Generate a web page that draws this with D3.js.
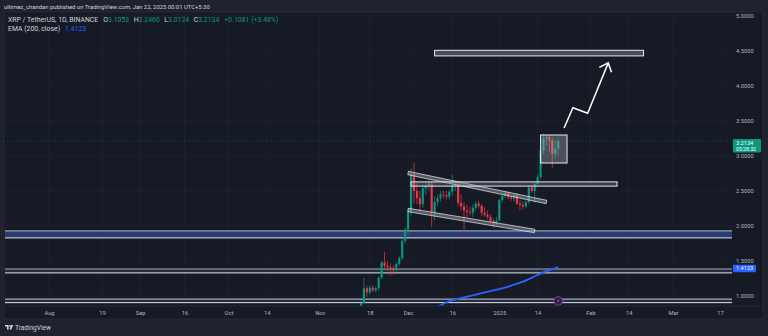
<!DOCTYPE html>
<html>
<head>
<meta charset="utf-8">
<script src="https://cdn.jsdelivr.net/npm/d3@7"></script>
<style>
html, body { margin: 0; padding: 0; background: #1e222d; }
svg { display: block; font-family: Roboto, "Liberation Sans", sans-serif; }
</style>
</head>
<body>
<div id="chart"></div>
<script>
// daily candles, XRP / TetherUS, starting 2024-11-13
const firstCandle = "2024-11-13";
const opens  = [0.70,0.71,0.76,0.90,1.11,1.05,1.12,1.08,1.11,1.26,1.48,1.43,1.41,1.40,1.37,1.46,1.54,1.79,
                1.95,2.21,2.74,2.50,2.40,2.31,2.54,2.57,2.61,2.20,2.34,2.40,2.45,2.44,2.42,2.49,2.58,2.60,2.33,2.28,2.22,2.20,2.19,2.26,2.32,2.29,2.19,2.16,2.13,2.07,2.04,
                2.08,2.37,2.43,2.47,2.41,2.39,2.44,2.32,2.30,2.28,2.34,2.55,2.50,2.60,2.70,3.08,3.25,3.27,3.22,3.03,3.1053];
const highs  = [0.76,0.80,0.93,1.26,1.15,1.15,1.15,1.14,1.28,1.50,1.63,1.50,1.47,1.44,1.48,1.57,1.82,1.98,
                2.26,2.82,2.91,2.62,2.50,2.58,2.63,2.66,2.64,2.42,2.45,2.50,2.51,2.50,2.52,2.73,2.64,2.63,2.45,2.34,2.30,2.27,2.31,2.35,2.36,2.31,2.27,2.22,2.17,2.11,2.13,
                2.39,2.46,2.50,2.49,2.44,2.47,2.47,2.37,2.35,2.37,2.58,2.58,2.63,2.74,3.12,3.32,3.31,3.30,3.26,3.23,3.2460];
const lows   = [0.66,0.70,0.75,0.88,0.99,1.02,1.05,1.05,1.08,1.24,1.37,1.36,1.29,1.31,1.35,1.43,1.51,1.75,
                1.88,2.14,2.32,2.31,2.21,2.26,2.45,2.50,1.98,2.08,2.28,2.35,2.39,2.38,2.38,2.44,2.50,2.28,2.22,1.93,2.12,2.15,2.13,2.22,2.25,2.14,2.13,2.10,2.05,1.98,2.02,
                2.07,2.34,2.40,2.38,2.36,2.35,2.30,2.22,2.23,2.25,2.31,2.47,2.33,2.57,2.66,3.03,3.15,3.05,2.83,2.96,3.0124];
const closes = [0.71,0.76,0.90,1.11,1.05,1.12,1.08,1.11,1.26,1.48,1.43,1.41,1.40,1.37,1.46,1.54,1.79,1.95,
                2.21,2.74,2.50,2.40,2.31,2.54,2.57,2.61,2.20,2.34,2.40,2.45,2.44,2.42,2.49,2.58,2.60,2.33,2.28,2.22,2.20,2.19,2.26,2.32,2.29,2.19,2.16,2.13,2.07,2.04,2.08,
                2.37,2.43,2.47,2.41,2.39,2.44,2.32,2.30,2.28,2.34,2.55,2.50,2.60,2.70,3.08,3.25,3.27,3.22,3.03,3.1053,3.2134];

// EMA (200, close)
const emaDates  = ["2024-12-05","2024-12-08","2024-12-11","2024-12-15","2024-12-20","2024-12-25","2024-12-30","2025-01-04","2025-01-09","2025-01-14","2025-01-17","2025-01-21"];
const emaValues = [0.74, 0.79, 0.845, 0.925, 0.98, 1.03, 1.08, 1.135, 1.205, 1.30, 1.355, 1.4123];

// axis ticks
const priceTicks = [1.0, 1.5, 2.0, 2.5, 3.0, 3.5, 4.0, 4.5, 5.0];
const timeTicks  = ["2024-08-01","2024-08-19","2024-09-01","2024-09-16","2024-10-01","2024-10-14","2024-11-01","2024-11-18",
                    "2024-12-01","2024-12-16","2025-01-01","2025-01-14","2025-02-01","2025-02-14","2025-03-01","2025-03-17"];
const timeLabels = ["Aug","19","Sep","16","Oct","14","Nov","18","Dec","16","2025","14","Feb","14","Mar","17"];

// horizontal support zones (extended both ways)
const zoneLow  = [1.83, 1.33, 0.905];
const zoneHigh = [1.93, 1.385, 0.955];

// drawn rectangles: resistance, consolidation box, target
const boxStart = ["2024-12-02", "2025-01-15", "2024-12-10"];
const boxEnd   = ["2025-02-10", "2025-01-24", "2025-02-19"];
const boxLow   = [2.57, 2.90, 4.43];
const boxHigh  = [2.63, 3.30, 4.51];

// falling channel
const channelDates  = [["2024-12-01", "2025-01-17"], ["2024-12-01", "2025-01-13"]];
const channelPrices = [[2.757, 2.343], [2.229, 1.929]];

// projection arrow
const arrowDates  = ["2025-01-23", "2025-01-26", "2025-01-31", "2025-02-07"];
const arrowPrices = [3.40, 3.69, 3.61, 4.33];

const lastPrice = 3.2134;
const lastEma = 1.4123;

const W = 768, H = 336;
const plot = {left: 4, right: 732, top: 12, bottom: 306};
const axisRight = 763, axisBottom = 319;
const up = "#089981", down = "#f23645";

const parse = d3.utcParse("%Y-%m-%d");
const start = parse(firstCandle);
const candles = closes.map(function(c, i) {
    return {date: d3.utcDay.offset(start, i), o: opens[i], h: highs[i], l: lows[i], c: c};
});

const svg = d3.select("#chart").append("svg")
    .attr("width", W)
    .attr("height", H);

svg.append("rect").attr("width", W).attr("height", H).attr("fill", "#1e222d");
svg.append("rect")
    .attr("x", plot.left).attr("y", plot.top)
    .attr("width", axisRight - plot.left).attr("height", axisBottom - plot.top)
    .attr("fill", "#161a25").attr("stroke", "#2a2e39").attr("stroke-width", 0.8);

const x = d3.scaleUtc()
    .domain([parse("2024-08-01"), parse("2025-03-01")])
    .range([49, 673]);

const y = d3.scaleLinear()
    .domain([1, 5])
    .range([296, 16]);

const dayW = x(parse("2024-12-02")) - x(parse("2024-12-01"));

// grid
svg.append("g").selectAll("line")
    .data(priceTicks)
    .join("line")
        .attr("x1", plot.left).attr("x2", plot.right)
        .attr("y1", d => y(d)).attr("y2", d => y(d))
        .attr("stroke", "#1f2431").attr("stroke-width", 0.8);

svg.append("g").selectAll("line")
    .data(timeTicks)
    .join("line")
        .attr("x1", d => x(parse(d))).attr("x2", d => x(parse(d)))
        .attr("y1", plot.top).attr("y2", plot.bottom)
        .attr("stroke", "#1f2431").attr("stroke-width", 0.8);

svg.append("clipPath").attr("id", "plotClip")
    .append("rect")
        .attr("x", plot.left).attr("y", plot.top)
        .attr("width", plot.right - plot.left).attr("height", plot.bottom - plot.top);

const g = svg.append("g").attr("clip-path", "url(#plotClip)");

// support zones
const zoneFill = ["#2b3c73", "#262c3f", "#262c3f"];
const zoneTop = ["#9a9eab", "#a6aab6", "#a6aab6"];
g.selectAll("rect.zone")
    .data(zoneLow)
    .join("rect")
        .attr("class", "zone")
        .attr("x", plot.left + 1)
        .attr("width", plot.right - plot.left - 1)
        .attr("y", (d, i) => y(zoneHigh[i]))
        .attr("height", (d, i) => y(d) - y(zoneHigh[i]))
        .attr("fill", (d, i) => zoneFill[i]);
g.selectAll("line.zoneTop")
    .data(zoneHigh)
    .join("line")
        .attr("class", "zoneTop")
        .attr("x1", plot.left + 1).attr("x2", plot.right)
        .attr("y1", d => y(d)).attr("y2", d => y(d))
        .attr("stroke", (d, i) => zoneTop[i]).attr("stroke-width", 1.1);
g.selectAll("line.zoneBottom")
    .data(zoneLow)
    .join("line")
        .attr("class", "zoneBottom")
        .attr("x1", plot.left + 1).attr("x2", plot.right)
        .attr("y1", d => y(d)).attr("y2", d => y(d))
        .attr("stroke", "#e3e6ee").attr("stroke-width", 1);

// last price line
g.append("line")
    .attr("x1", plot.left).attr("x2", plot.right)
    .attr("y1", y(lastPrice)).attr("y2", y(lastPrice))
    .attr("stroke", up).attr("stroke-opacity", 0.55)
    .attr("stroke-dasharray", "1,2").attr("stroke-width", 0.7);

// candles
const cg = g.append("g");
cg.selectAll("line")
    .data(candles)
    .join("line")
        .attr("x1", d => x(d.date)).attr("x2", d => x(d.date))
        .attr("y1", d => y(d.h)).attr("y2", d => y(d.l))
        .attr("stroke", d => d.c >= d.o ? up : down)
        .attr("stroke-width", 0.7);
cg.selectAll("rect")
    .data(candles)
    .join("rect")
        .attr("x", d => x(d.date) - dayW * 0.36)
        .attr("width", dayW * 0.72)
        .attr("y", d => y(Math.max(d.o, d.c)))
        .attr("height", d => Math.max(0.6, Math.abs(y(d.o) - y(d.c))))
        .attr("fill", d => d.c >= d.o ? up : down);

// EMA
const ema = emaDates.map((d, i) => ({date: parse(d), v: emaValues[i]}));
g.append("path")
    .datum(ema)
    .attr("fill", "none")
    .attr("stroke", "#2962ff")
    .attr("stroke-width", 1.8)
    .attr("d", d3.line().x(d => x(d.date)).y(d => y(d.v)).curve(d3.curveMonotoneX));

// channel lines drawn as thin bands
channelDates.forEach(function(ds, i) {
    const x1 = x(parse(ds[0])), y1 = y(channelPrices[i][0]);
    const x2 = x(parse(ds[1])), y2 = y(channelPrices[i][1]);
    const len = Math.hypot(x2 - x1, y2 - y1);
    const nx = -(y2 - y1) / len * 1.7, ny = (x2 - x1) / len * 1.7;
    g.append("path")
        .attr("d", `M${x1 + nx},${y1 + ny}L${x2 + nx},${y2 + ny}L${x2 - nx},${y2 - ny}L${x1 - nx},${y1 - ny}Z`)
        .attr("fill", "rgba(150,152,162,0.5)")
        .attr("stroke", "#e6e8ee")
        .attr("stroke-width", 0.7);
});

// rectangles
const boxFill = ["rgba(120,123,134,0.35)", "rgba(178,181,190,0.35)", "rgba(120,123,134,0.5)"];
g.selectAll("rect.box")
    .data(boxStart)
    .join("rect")
        .attr("class", "box")
        .attr("x", d => x(parse(d)))
        .attr("width", (d, i) => x(parse(boxEnd[i])) - x(parse(d)))
        .attr("y", (d, i) => y(boxHigh[i]))
        .attr("height", (d, i) => y(boxLow[i]) - y(boxHigh[i]))
        .attr("fill", (d, i) => boxFill[i])
        .attr("stroke", "#e8eaf0")
        .attr("stroke-width", 1);

// arrow
const arrowPts = arrowDates.map((d, i) => [x(parse(d)), y(arrowPrices[i])]);
g.append("path")
    .attr("d", d3.line()(arrowPts))
    .attr("fill", "none").attr("stroke", "#ffffff")
    .attr("stroke-width", 1.5).attr("stroke-linejoin", "miter");
const tip = arrowPts[arrowPts.length - 1], prev = arrowPts[arrowPts.length - 2];
const back = Math.atan2(prev[1] - tip[1], prev[0] - tip[0]);
const headPts = [-0.72, 0.72].map(a => [tip[0] + 10 * Math.cos(back + a), tip[1] + 10 * Math.sin(back + a)]);
g.append("path")
    .attr("d", d3.line()([headPts[0], tip, headPts[1]]))
    .attr("fill", "none").attr("stroke", "#ffffff")
    .attr("stroke-width", 1.5);

// event marker on last candle
const lastDate = candles[candles.length - 1].date;
const ev = svg.append("g").attr("transform", `translate(${x(lastDate)},${plot.bottom - 5})`);
ev.append("circle").attr("r", 4.3).attr("fill", "#2b1f3f").attr("stroke", "#8d3fb8").attr("stroke-width", 1);
ev.append("path").attr("d", "M0.8,-2.6L-1.3,0.3L0.2,0.3L-0.8,2.6L1.3,-0.4L-0.2,-0.4Z").attr("fill", "#b26ae0");

// frame lines
svg.append("line").attr("x1", plot.left).attr("x2", axisRight).attr("y1", plot.bottom).attr("y2", plot.bottom)
    .attr("stroke", "#2a2e39").attr("stroke-width", 0.8);

// axes
const yAxis = svg.append("g")
    .attr("transform", `translate(${plot.right},0)`)
    .call(d3.axisRight(y).tickValues(priceTicks).tickFormat(d3.format(".4f")).tickSize(0).tickPadding(4));
yAxis.select(".domain").remove();
yAxis.selectAll("text").attr("fill", "#b2b5be").attr("font-size", 5.8).attr("font-family", "Roboto, sans-serif");

const xAxis = svg.append("g")
    .attr("transform", `translate(0,${plot.bottom})`)
    .call(d3.axisBottom(x).tickValues(timeTicks.map(parse)).tickFormat((d, i) => timeLabels[i]).tickSize(0).tickPadding(5));
xAxis.select(".domain").remove();
xAxis.selectAll("text").attr("fill", "#b2b5be").attr("font-size", 5.8).attr("font-family", "Roboto, sans-serif");

// price labels
const pl = svg.append("g").attr("transform", `translate(${plot.right + 1},${y(lastPrice)})`);
pl.append("rect").attr("y", -2).attr("width", 28).attr("height", 13.5).attr("rx", 1).attr("fill", up);
pl.append("text").attr("x", 3).attr("y", 3.6).attr("font-size", 5.6).attr("fill", "#fff").text(d3.format(".4f")(lastPrice));
pl.append("text").attr("x", 3).attr("y", 9.8).attr("font-size", 5.2).attr("fill", "#fff").text("05:28:32");

const el = svg.append("g").attr("transform", `translate(${plot.right + 1},${y(lastEma)})`);
el.append("rect").attr("y", -2.5).attr("width", 23).attr("height", 7.5).attr("rx", 1).attr("fill", "#2962ff");
el.append("text").attr("x", 3).attr("y", 3.2).attr("font-size", 5.6).attr("fill", "#fff").text(d3.format(".4f")(lastEma));

// header and legends
svg.append("text").attr("x", 4).attr("y", 8.5).attr("font-size", 5.9).attr("fill", "#d1d4dc")
    .text("ultimez_chandan published on TradingView.com, Jan 22, 2025 00:01 UTC+5:30");

const legend = svg.append("text").attr("x", 8).attr("y", 22).attr("font-size", 6.9).attr("fill", "#d1d4dc");
legend.append("tspan").text("XRP / TetherUS, 1D, BINANCE");
const ohlc = [["O", opens[opens.length - 1]], ["H", highs[highs.length - 1]], ["L", lows[lows.length - 1]], ["C", lastPrice]];
ohlc.forEach(function(p, i) {
    legend.append("tspan").attr("dx", i === 0 ? 5 : 4.5).text(p[0]);
    legend.append("tspan").attr("fill", up).text(d3.format(".4f")(p[1]));
});
legend.append("tspan").attr("dx", 5).attr("fill", up).text("+0.1081 (+3.48%)");

const legend2 = svg.append("text").attr("x", 8).attr("y", 31).attr("font-size", 6.9).attr("fill", "#d1d4dc");
legend2.append("tspan").text("EMA (200, close)");
legend2.append("tspan").attr("dx", 5).attr("fill", "#2962ff").text(d3.format(".4f")(lastEma));

// footer logo
const logo = svg.append("g").attr("transform", "translate(5,325)");
logo.append("path").attr("d", "M0,0H3.6V4.6H2V1.6H0Z").attr("fill", "#d1d4dc");
logo.append("circle").attr("cx", 4.9).attr("cy", 0.9).attr("r", 0.9).attr("fill", "#d1d4dc");
logo.append("path").attr("d", "M6.2,0H8.2L6.2,4.6H4.4Z").attr("fill", "#d1d4dc");
svg.append("text").attr("x", 15).attr("y", 330).attr("font-size", 6.5).attr("fill", "#d1d4dc").text("TradingView");
</script>
</body>
</html>
